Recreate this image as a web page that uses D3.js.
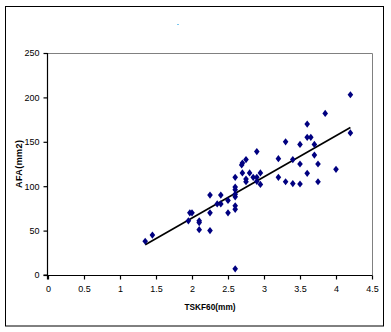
<!DOCTYPE html>
<html>
<head>
<meta charset="utf-8">
<script src="https://cdn.jsdelivr.net/npm/d3@7"></script>
<style>
  html, body { margin: 0; padding: 0; background: #fff; }
  svg { display: block; font-family: "Liberation Sans", Arial, sans-serif; }
</style>
</head>
<body>
<svg id="chart" width="391" height="332"></svg>
<script>
// TSKF60 thickness (mm) against AFA area (mm2)
const tskf60 = [1.35, 1.45, 1.97, 2.0, 1.95, 2.1, 2.1, 2.1, 2.25, 2.25, 2.25,
  2.4, 2.35, 2.4, 2.5, 2.5, 2.6, 2.6, 2.6, 2.6, 2.6, 2.6, 2.6, 2.6,
  2.75, 2.75, 2.7, 2.8, 2.95, 2.85, 2.9, 2.9, 2.95, 2.75, 2.7, 2.69, 2.9,
  3.2, 3.2, 3.3, 3.3, 3.4, 3.4, 3.5, 3.5, 3.5, 3.6, 3.6, 3.65, 3.6,
  3.7, 3.7, 3.75, 3.75, 3.85, 4.0, 4.2, 4.2];
const afa = [38, 45, 70, 70, 61, 61, 59, 51, 90, 70, 50,
  90, 80, 80, 84, 70, 99, 96, 91, 88, 78, 74, 110, 7,
  105, 108, 115, 115, 115, 110, 110, 105.5, 102, 130, 126, 124, 139,
  131, 110, 150, 105, 130, 103, 147, 125, 102.5, 170, 155, 155, 114.5,
  147, 135, 125, 105, 182, 119, 160, 203];

const xTicks = [0, 0.5, 1, 1.5, 2, 2.5, 3, 3.5, 4, 4.5];
const yTicks = [0, 50, 100, 150, 200, 250];
const xTitle = "TSKF60(mm)";
const yTitle = "AFA(mm2)";

const svg = d3.select("#chart");
const plot = { left: 48, top: 53, right: 372, bottom: 275 };

// chart frame
svg.append("rect")
  .attr("x", 5.5).attr("y", 6.5)
  .attr("width", 378).attr("height", 319.5)
  .attr("fill", "#fff").attr("stroke", "#000").attr("stroke-width", 1);

// small leftover mark where a title would sit
svg.append("rect")
  .attr("x", 177).attr("y", 24).attr("width", 2).attr("height", 1)
  .attr("fill", "#7cc8f0");

const x = d3.scaleLinear().domain([0, 4.5]).range([plot.left, plot.right]);
const y = d3.scaleLinear().domain([0, 250]).range([plot.bottom, plot.top]);

// plot-area border (top and right in grey)
svg.append("path")
  .attr("d", `M${plot.left},${plot.top + 0.5}H${plot.right + 0.5}V${plot.bottom}`)
  .attr("fill", "none").attr("stroke", "#808080").attr("stroke-width", 1);

const xAxis = d3.axisBottom(x).tickValues(xTicks).tickSize(4).tickPadding(6)
  .tickFormat(d3.format("~g"));
const yAxis = d3.axisLeft(y).tickValues(yTicks).tickSize(4).tickPadding(4)
  .tickFormat(d3.format("d"));

const gx = svg.append("g").attr("transform", `translate(0,${plot.bottom + 0.5})`).call(xAxis);
const gy = svg.append("g").attr("transform", `translate(${plot.left - 0.5},0)`).call(yAxis);

[gx, gy].forEach(g => {
  g.select(".domain").attr("stroke", "#000").attr("stroke-width", 1.2);
  g.selectAll(".tick line").attr("stroke", "#000").attr("stroke-width", 1.2);
  g.selectAll(".tick text")
    .attr("fill", "#000")
    .style("font-family", "'Liberation Sans', Arial, sans-serif")
    .style("font-size", "9px");
});
gx.select(".domain").attr("d", `M${plot.left - 0.5},4V0H${plot.right + 0.5}`);
gy.select(".domain").attr("d", `M-4,${plot.bottom}H0V${plot.top}`);

// least-squares trend line over the observed range
const n = tskf60.length;
const mx = d3.mean(tskf60), my = d3.mean(afa);
let sxy = 0, sxx = 0;
for (let i = 0; i < n; i++) {
  sxy += (tskf60[i] - mx) * (afa[i] - my);
  sxx += (tskf60[i] - mx) ** 2;
}
const slope = sxy / sxx;
const intercept = my - slope * mx;
const [x0, x1] = d3.extent(tskf60);
svg.append("line")
  .attr("x1", x(x0)).attr("y1", y(intercept + slope * x0))
  .attr("x2", x(x1)).attr("y2", y(intercept + slope * x1))
  .attr("stroke", "#000").attr("stroke-width", 1.6);

// diamond markers
const diamond = "M0,-3.6L2.8,0L0,3.6L-2.8,0Z";
svg.append("g").selectAll("path")
  .data(d3.range(n))
  .join("path")
  .attr("transform", i => `translate(${x(tskf60[i])},${y(afa[i])})`)
  .attr("d", diamond)
  .attr("fill", "#000080");

// axis titles
svg.append("text")
  .attr("x", (plot.left + plot.right) / 2).attr("y", 310)
  .attr("text-anchor", "middle")
  .attr("textLength", 51).attr("lengthAdjust", "spacingAndGlyphs")
  .style("font-size", "9px").style("font-weight", "bold")
  .text(xTitle);

svg.append("text")
  .attr("transform", `translate(22,${(plot.top + plot.bottom) / 2}) rotate(-90)`)
  .attr("text-anchor", "middle")
  .attr("textLength", 48).attr("lengthAdjust", "spacing")
  .style("font-size", "9px").style("font-weight", "bold")
  .text(yTitle);
</script>
</body>
</html>
